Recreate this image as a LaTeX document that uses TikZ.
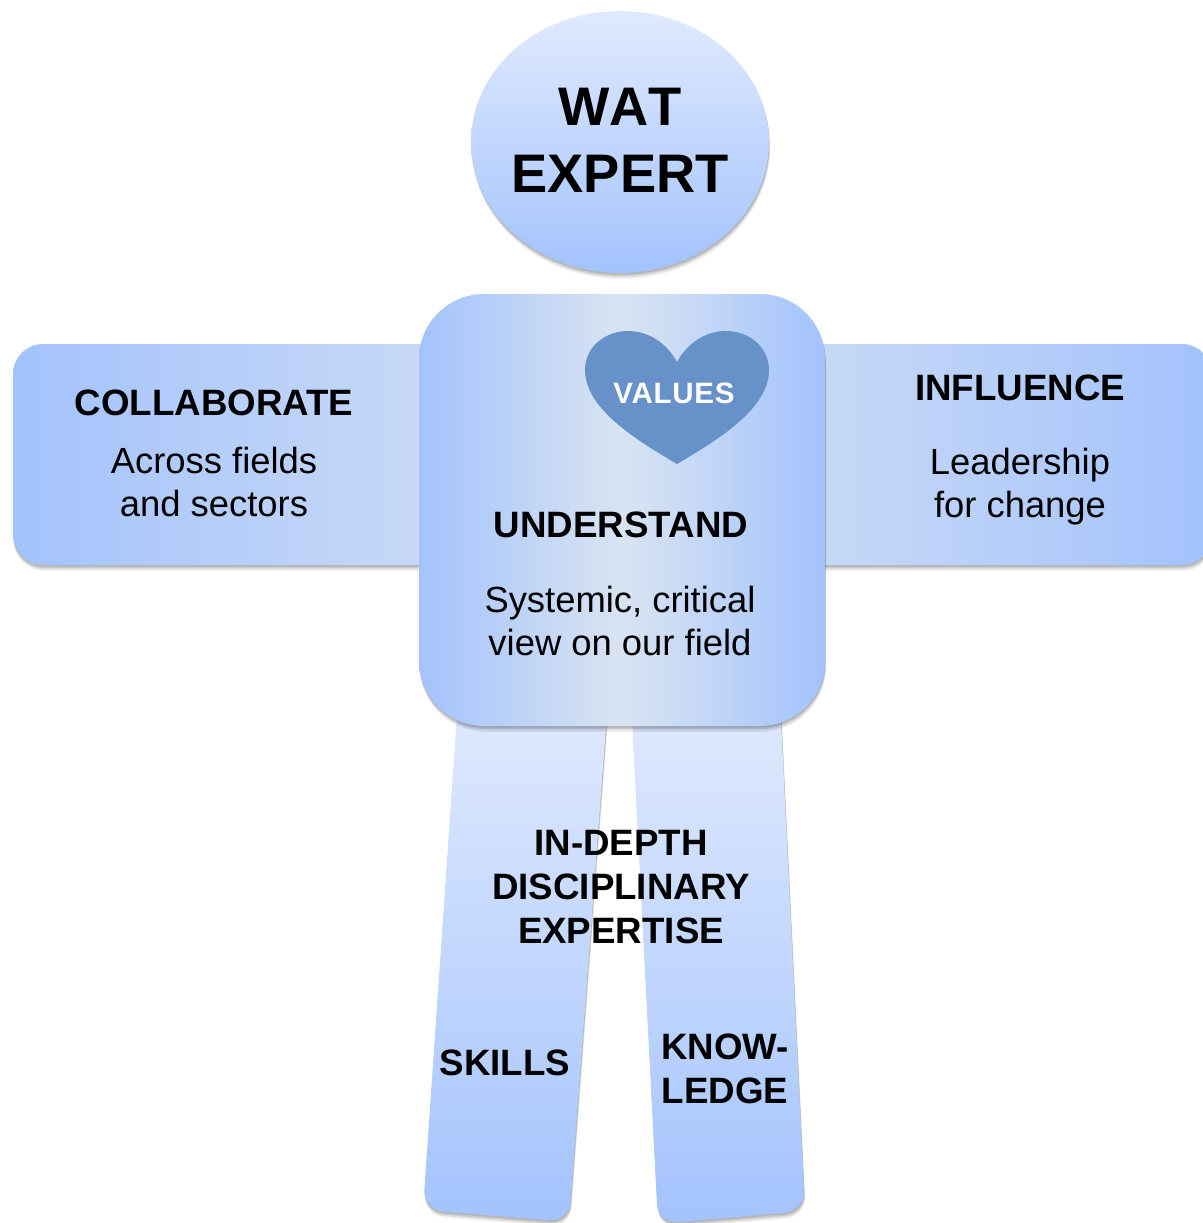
\documentclass[tikz,border=0pt]{standalone}
\usepackage{fontspec}
\setmainfont{Liberation Sans}
\usetikzlibrary{shadows,fadings}
\definecolor{lightb}{HTML}{E0EAFE}
\definecolor{midb}{HTML}{A3C3FD}
\definecolor{centb}{HTML}{D9E4F2}
\definecolor{armb}{HTML}{CADAF6}
\definecolor{heartb}{HTML}{6792C9}
\tikzset{x=1pt,y=-1pt,
 softshadow/.style={
   general shadow={shadow xshift=0.5pt,shadow yshift=-1.5pt,fill=black,opacity=.10},
   general shadow={shadow xshift=0.5pt,shadow yshift=-3pt,fill=black,opacity=.10},
   general shadow={shadow xshift=1pt,shadow yshift=-4.5pt,fill=black,opacity=.08},
   general shadow={shadow xshift=1pt,shadow yshift=-6pt,fill=black,opacity=.05}},
 vgrad/.style={top color=lightb,bottom color=midb,draw=none,softshadow},
 bigtxt/.style={font=\bfseries\fontsize{54.3}{67}\selectfont,align=center},
 headtxt/.style={font=\bfseries\fontsize{36.7}{44}\selectfont,align=center},
 bodytxt/.style={font=\fontsize{36.4}{43}\selectfont,align=center}}
\begin{document}
\begin{tikzpicture}
\useasboundingbox (0,0) rectangle (1202,1223);
% legs
\path[vgrad,rounded corners=20] (458,700) -- (608,700) -- (569,1222) -- (423,1210) -- cycle;
\path[vgrad,rounded corners=20] (631,700) -- (780,700) -- (805,1211) -- (658,1224) -- cycle;
% arms
\path[softshadow,left color=midb,right color=armb,draw=none,rounded corners=30] (13,344) rectangle (450,565);
\path[softshadow,left color=armb,right color=midb,draw=none,rounded corners=30] (790,344) rectangle (1212,565);
% head
\path[vgrad] (620,142) ellipse [x radius=149,y radius=131];
% torso
\path[softshadow,left color=midb,right color=midb,middle color=centb,draw=none,rounded corners=65] (419,294) rectangle (825,726);
% heart
\path[fill=heartb] (677,464) .. controls (640,442) and (585,410) .. (585,370)
 .. controls (585,347) and (605,331) .. (628,331)
 .. controls (650,331) and (668,345) .. (677,362)
 .. controls (686,345) and (704,331) .. (726,331)
 .. controls (750,331) and (769,348) .. (769,370)
 .. controls (769,410) and (714,442) .. (677,464) -- cycle;
\node[bigtxt] (t1) at (620,140) {{\addfontfeature{Kerning=Off}WAT}\\EXPERT};
\node[font=\bfseries\fontsize{29.5}{34}\selectfont\addfontfeature{LetterSpace=2.5},text=white] (t2) at (674,393) {VALUES};
\node[headtxt] (t3) at (621,525) {UNDERSTAND};
\node[bodytxt] (t4) at (620,621) {Systemic, critical\\view on our field};
\node[headtxt] (t5) at (214,403) {COLLABORATE};
\node[bodytxt] (t6) at (214,482) {Across fields\\and sectors};
\node[headtxt] (t7) at (1020,388) {INFLUENCE};
\node[bodytxt] (t8) at (1020,487) {Leadership\\for change};
\node[headtxt] (t9) at (621,887.5) {IN-DEPTH\\DISCIPLINARY\\EXPERTISE};
\node[headtxt] (t10) at (505,1063) {SKILLS};
\node[headtxt] (t11) at (725,1068.5) {KNOW-\\LEDGE};
\end{tikzpicture}
\end{document}
